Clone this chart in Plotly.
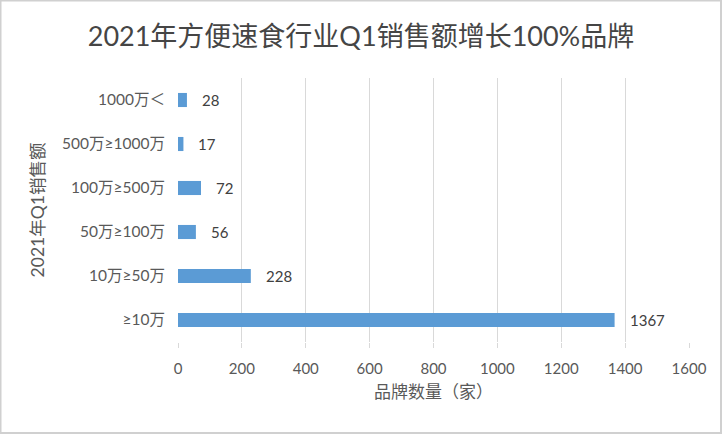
import plotly.graph_objects as go

categories = ["≥10万", "10万≥50万", "50万≥100万", "100万≥500万", "500万≥1000万", "1000万＜"]
values = [1367, 228, 56, 72, 17, 28]
x_ticks = [0, 200, 400, 600, 800, 1000, 1200, 1400, 1600]

W, H = 722, 434
L, R, T, B = 178, 33, 78, 92
pw, ph = W - L - R, H - T - B

font = "Lato, Noto Sans CJK SC, sans-serif"

fig = go.Figure()
fig.add_trace(go.Bar(
    y=categories, x=values, orientation="h",
    marker=dict(color="#5b9bd5", line=dict(width=0)),
    width=0.32, hoverinfo="skip",
))

for c, v in zip(categories, values):
    fig.add_annotation(x=v, y=c, text=str(v), showarrow=False, xanchor="left",
                       xshift=13, font=dict(size=15, color="#404040", family=font))

fig.add_shape(type="rect", xref="paper", yref="paper",
              x0=-L / pw + 0.5 / pw, x1=(W - L) / pw - 1 / pw,
              y0=-B / ph + 1 / ph, y1=(H - B) / ph - 0.5 / ph,
              line=dict(color="#d0d0d0", width=2), layer="above")

fig.update_layout(
    width=W, height=H,
    margin=dict(l=L, r=R, t=T, b=B),
    paper_bgcolor="white", plot_bgcolor="white",
    showlegend=False,
    title=dict(text="2021年方便速食行业Q1销售额增长100%品牌", x=0.5, xref="container", xanchor="center",
               y=1 - 37 / H, yanchor="middle",
               font=dict(size=27, color="#454545", family=font)),
    xaxis=dict(range=[0, 1600], tickvals=x_ticks, showgrid=True, gridcolor="#d9d9d9", gridwidth=1,
               zeroline=False, showline=False, ticks="outside", ticklen=5, tickcolor="#d9d9d9",
               ticklabelstandoff=8,
               tickfont=dict(size=15, color="#595959", family=font),
               title=dict(text="品牌数量（家）", font=dict(size=17, color="#595959", family=font), standoff=10),
               fixedrange=True),
    yaxis=dict(categoryorder="array", categoryarray=categories, showgrid=False, zeroline=False,
               showline=False, ticks="", ticklabelstandoff=12,
               tickfont=dict(size=15.5, color="#595959", family=font),
               title=dict(text="2021年Q1销售额", font=dict(size=17.5, color="#595959", family=font), standoff=12),
               fixedrange=True),
)

fig.write_html("out.html")
